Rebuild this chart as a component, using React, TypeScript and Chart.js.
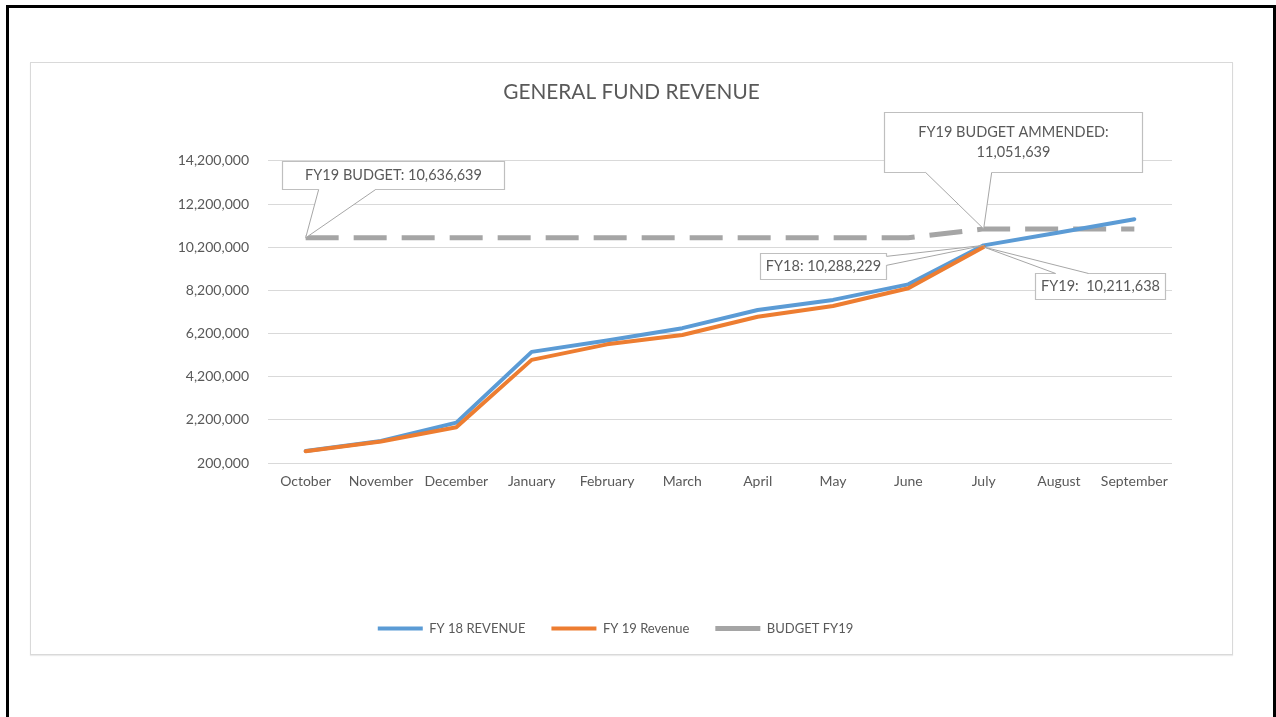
import React, { useEffect, useRef } from "react";
import { Chart, registerables } from "chart.js";

Chart.register(...registerables);

const months = [
  "October", "November", "December", "January", "February", "March",
  "April", "May", "June", "July", "August", "September",
];
const fy18Revenue = [
  760000, 1220000, 2070000, 5350000, 5880000, 6450000,
  7290000, 7760000, 8480000, 10288229, 10880000, 11500000,
];
const fy19Revenue = [
  740000, 1200000, 1860000, 4980000, 5700000, 6130000,
  6980000, 7480000, 8300000, 10211638, null, null,
];
const budgetFy19 = [
  10636639, 10636639, 10636639, 10636639, 10636639, 10636639,
  10636639, 10636639, 10636639, 11051639, 11051639, 11051639,
];
const yTicks = [200000, 2200000, 4200000, 6200000, 8200000, 10200000, 12200000, 14200000];

const seriesNames = ["FY 18 REVENUE", "FY 19 Revenue", "BUDGET FY19"];
const titleText = "GENERAL FUND REVENUE";

const FONT = "Lato, 'Liberation Sans', sans-serif";
const TEXT = "#595959";

type Callout = {
  ds: number;
  idx: number;
  lines: string[];
  box: [number, number, number, number]; // dx1, dy1, dx2, dy2 relative to anchor
  side: "bottom" | "right" | "top";
  base: [number, number]; // along side, relative to anchor
};

const callouts: Callout[] = [
  { ds: 2, idx: 0, lines: ["FY19 BUDGET: 10,636,639"], box: [-24, -77, 198, -49], side: "bottom", base: [13, 70] },
  { ds: 2, idx: 9, lines: ["FY19 BUDGET AMMENDED:", "11,051,639"], box: [-100, -117, 158, -57], side: "bottom", base: [-58, 8] },
  { ds: 0, idx: 9, lines: ["FY18: 10,288,229"], box: [-224, 8, -98, 34], side: "right", base: [11, 20] },
  { ds: 1, idx: 9, lines: ["FY19:  10,211,638"], box: [51, 26, 181, 52], side: "top", base: [72, 105] },
];

const calloutPlugin = {
  id: "callouts",
  afterDatasetsDraw(chart: any) {
    const ctx = chart.ctx as CanvasRenderingContext2D;
    ctx.save();
    for (const c of callouts) {
      const pt = chart.getDatasetMeta(c.ds).data[c.idx];
      if (!pt) continue;
      const ax = pt.x;
      const ay = pt.y;
      const x1 = Math.round(ax + c.box[0]) + 0.5;
      const y1 = Math.round(ay + c.box[1]) + 0.5;
      const x2 = Math.round(ax + c.box[2]) + 0.5;
      const y2 = Math.round(ay + c.box[3]) + 0.5;
      // box
      ctx.fillStyle = "#ffffff";
      ctx.strokeStyle = "#BFBFBF";
      ctx.lineWidth = 1.2;
      ctx.beginPath();
      ctx.rect(x1, y1, x2 - x1, y2 - y1);
      ctx.fill();
      ctx.stroke();
      // wedge
      let p1: [number, number], p2: [number, number], q1: [number, number], q2: [number, number];
      if (c.side === "bottom") {
        p1 = [ax + c.base[0], y2]; p2 = [ax + c.base[1], y2];
        q1 = [p1[0], y2 - 1.5]; q2 = [p2[0], y2 - 1.5];
      } else if (c.side === "top") {
        p1 = [ax + c.base[0], y1]; p2 = [ax + c.base[1], y1];
        q1 = [p1[0], y1 + 1.5]; q2 = [p2[0], y1 + 1.5];
      } else {
        p1 = [x2, ay + c.base[0]]; p2 = [x2, ay + c.base[1]];
        q1 = [x2 - 1.5, p1[1]]; q2 = [x2 - 1.5, p2[1]];
      }
      ctx.beginPath();
      ctx.moveTo(q1[0], q1[1]);
      ctx.lineTo(p1[0], p1[1]);
      ctx.lineTo(ax, ay);
      ctx.lineTo(p2[0], p2[1]);
      ctx.lineTo(q2[0], q2[1]);
      ctx.closePath();
      ctx.fill();
      ctx.strokeStyle = "#A6A6A6";
      ctx.lineWidth = 1;
      ctx.beginPath();
      ctx.moveTo(p1[0], p1[1]);
      ctx.lineTo(ax, ay);
      ctx.lineTo(p2[0], p2[1]);
      ctx.stroke();
      // text
      ctx.fillStyle = TEXT;
      ctx.font = `14.5px ${FONT}`;
      ctx.textAlign = "center";
      ctx.textBaseline = "middle";
      const cx = (x1 + x2) / 2;
      const cy = (y1 + y2) / 2;
      const lh = 20;
      c.lines.forEach((t, i) => {
        ctx.fillText(t, cx, cy + (i - (c.lines.length - 1) / 2) * lh);
      });
    }
    ctx.restore();
  },
};

const legendShift = {
  id: "legendShift",
  afterLayout(chart: any) {
    const lg = chart.legend;
    if (lg) {
      lg.left -= 16;
      lg.right -= 16;
    }
  },
};

export default function App() {
  const ref = useRef<HTMLCanvasElement | null>(null);
  useEffect(() => {
    if (!ref.current) return;
    const chart = new Chart(ref.current, {
      type: "line",
      data: {
        labels: months,
        datasets: [
          {
            label: seriesNames[0],
            data: fy18Revenue,
            borderColor: "#5B9BD5",
            backgroundColor: "#5B9BD5",
            borderWidth: 4,
            borderCapStyle: "round",
            borderJoinStyle: "round",
            pointRadius: 0,
            tension: 0,
            order: 2,
          },
          {
            label: seriesNames[1],
            data: fy19Revenue,
            borderColor: "#ED7D31",
            backgroundColor: "#ED7D31",
            borderWidth: 4,
            borderCapStyle: "round",
            borderJoinStyle: "round",
            pointRadius: 0,
            tension: 0,
            order: 1,
          },
          {
            label: seriesNames[2],
            data: budgetFy19,
            borderColor: "#A5A5A5",
            backgroundColor: "#A5A5A5",
            borderWidth: 5,
            borderDash: [33, 15],
            borderCapStyle: "butt",
            pointRadius: 0,
            tension: 0,
            order: 3,
          },
        ],
      } as any,
      options: {
        animation: false,
        responsive: false,
        maintainAspectRatio: false,
        layout: { padding: { left: 0, right: 0, top: 0, bottom: 9 } },
        plugins: {
          title: {
            display: true,
            text: titleText,
            color: TEXT,
            font: { family: FONT, size: 20.8, weight: "normal" },
            padding: { top: 17, bottom: 56 },
          },
          legend: {
            position: "bottom",
            labels: {
              usePointStyle: true,
              pointStyle: "line",
              pointStyleWidth: 45,
              boxHeight: 4,
              padding: 26,
              color: TEXT,
              font: { family: FONT, size: 13 },
              sort: (a: any, b: any) => a.datasetIndex - b.datasetIndex,
            },
          },
          tooltip: { enabled: false },
        },
        scales: {
          x: {
            offset: true,
            grid: { display: false, drawTicks: false },
            border: { display: false },
            ticks: { color: TEXT, font: { family: FONT, size: 14 }, padding: 10, maxRotation: 0, autoSkip: false },
            afterFit: (s: any) => { s.height = 133; },
          },
          y: {
            min: yTicks[0],
            max: yTicks[yTicks.length - 1],
            afterBuildTicks: (s: any) => { s.ticks = yTicks.map((v) => ({ value: v })); },
            grid: { color: "#D9D9D9", lineWidth: 1, drawTicks: false },
            border: { display: false },
            ticks: {
              color: TEXT,
              font: { family: FONT, size: 14 },
              padding: 19,
              callback: (v: any) => Number(v).toLocaleString("en-US"),
            },
            afterFit: (s: any) => { s.width = 237; },
          },
          yRight: {
            position: "right",
            display: true,
            grid: { display: false, drawTicks: false },
            border: { display: false },
            ticks: { display: false },
            afterFit: (s: any) => { s.width = 60; },
          },
        },
      } as any,
      plugins: [calloutPlugin, legendShift],
    });
    return () => chart.destroy();
  }, []);

  return (
    <div style={{ position: "fixed", left: 0, top: 0, width: 1276, height: 717, overflow: "hidden", background: "#fff" }}>
      <div
        style={{
          position: "absolute",
          left: 6,
          top: 5,
          width: 1264,
          height: 760,
          border: "3px solid #000",
          boxSizing: "content-box",
        }}
      />
      <div
        style={{
          position: "absolute",
          left: 30,
          top: 62,
          width: 1201,
          height: 591,
          border: "1px solid #D9D9D9",
          boxShadow: "0 1px 1px rgba(0,0,0,0.08)",
          background: "#fff",
        }}
      >
        <canvas ref={ref} width={1201} height={591} style={{ display: "block", width: 1201, height: 591 }} />
      </div>
    </div>
  );
}
